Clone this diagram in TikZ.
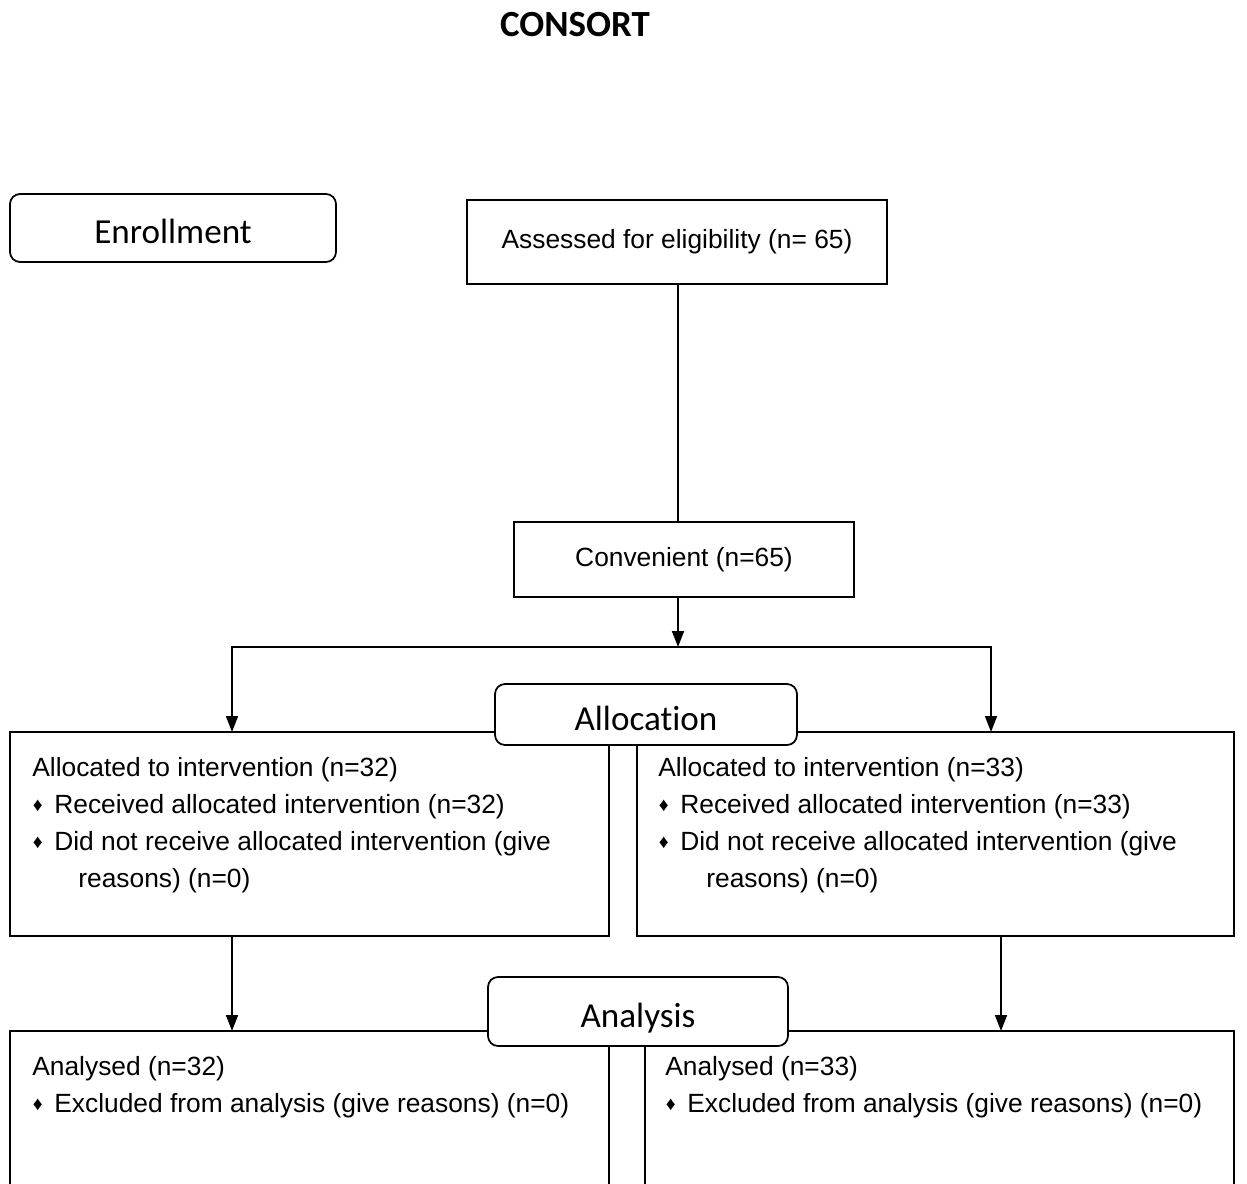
\documentclass[tikz,border=0pt]{standalone}
\usepackage{fontspec}
\setmainfont{Liberation Sans}
\newfontfamily\calibri[Ligatures=NoCommon]{Carlito}
\usetikzlibrary{arrows.meta}

\newcommand{\bul}{\makebox[0.44cm][l]{\hspace{0.01cm}\raisebox{0.03cm}{\fontsize{11}{11}\selectfont ♦}}}

\begin{document}
\begin{tikzpicture}[x=0.02cm,y=-0.02cm,
    box/.style={draw,line width=1pt,inner sep=0pt,font=\fontsize{15}{21}\selectfont},
    stage/.style={draw,line width=1pt,rounded corners=0.2cm,fill=white,inner sep=0pt,
        text height=0.62cm,text depth=0cm,font=\calibri\fontsize{20}{24}\selectfont},
    txt/.style={anchor=north west,align=left,inner sep=0pt,font=\fontsize{15}{21}\selectfont},
    arr/.style={line width=1pt,-{Triangle[length=0.32cm,width=0.24cm]}}]

    \useasboundingbox (0,0) rectangle (1247,1183);
    \clip (0,0) rectangle (1247,1183);

    \node[font=\calibri\bfseries\fontsize{21}{25}\selectfont] (title) at (575,25) {CONSORT};

    % enrollment
    \node[stage,minimum width=6.52cm,minimum height=1.36cm] (enroll) at (173,228) {Enrollment};
    \node[box,minimum width=8.4cm,minimum height=1.68cm] (assess) at (677,242) {Assessed for eligibility (n= 65)};
    \node[box,minimum width=6.8cm,minimum height=1.5cm] (conv) at (684,559.5) {Convenient (n=65)};

    % allocation
    \node[box,minimum width=11.98cm,minimum height=4.08cm] (allocL) at (309.5,834) {};
    \node[box,minimum width=11.94cm,minimum height=4.08cm] (allocR) at (935.5,834) {};
    \node[stage,minimum width=6.04cm,minimum height=1.22cm] (alloc) at (646,714.5) {Allocation};

    \node[txt] (allocLtxt) at (32,757) {Allocated to intervention (n=32)\\
        \bul Received allocated intervention (n=32)\\
        \bul Did not receive allocated intervention (give\\
        \hspace*{0.92cm}reasons) (n=0)};
    \node[txt] (allocRtxt) at (658,757) {Allocated to intervention (n=33)\\
        \bul Received allocated intervention (n=33)\\
        \bul Did not receive allocated intervention (give\\
        \hspace*{0.96cm}reasons) (n=0)};

    % analysis
    \node[box,minimum width=11.98cm,minimum height=4.4cm] (anaL) at (309.5,1141) {};
    \node[box,minimum width=11.78cm,minimum height=4.4cm] (anaR) at (939.5,1141) {};
    \node[stage,minimum width=6cm,minimum height=1.38cm] (analysis) at (638,1011.5) {Analysis};

    \node[txt] (anaLtxt) at (32,1056) {Analysed (n=32)\\
        \bul Excluded from analysis (give reasons) (n=0)};
    \node[txt] (anaRtxt) at (665,1056) {Analysed (n=33)\\
        \bul Excluded from analysis (give reasons) (n=0)};

    % connectors
    \coordinate (split) at (678,647);
    \coordinate (inL) at (232,732);
    \coordinate (inR) at (991,732);
    \coordinate (outL) at (232,1031);
    \coordinate (outR) at (1001,1031);

    \draw[line width=1pt] (assess.south -| split) -- (conv.north -| split);
    \draw[arr] (conv.south -| split) -- (split);
    \draw[arr] (split) -| (inL);
    \draw[arr] (split) -| (inR);
    \draw[arr] (allocL.south -| outL) -- (outL);
    \draw[arr] (allocR.south -| outR) -- (outR);
\end{tikzpicture}
\end{document}
